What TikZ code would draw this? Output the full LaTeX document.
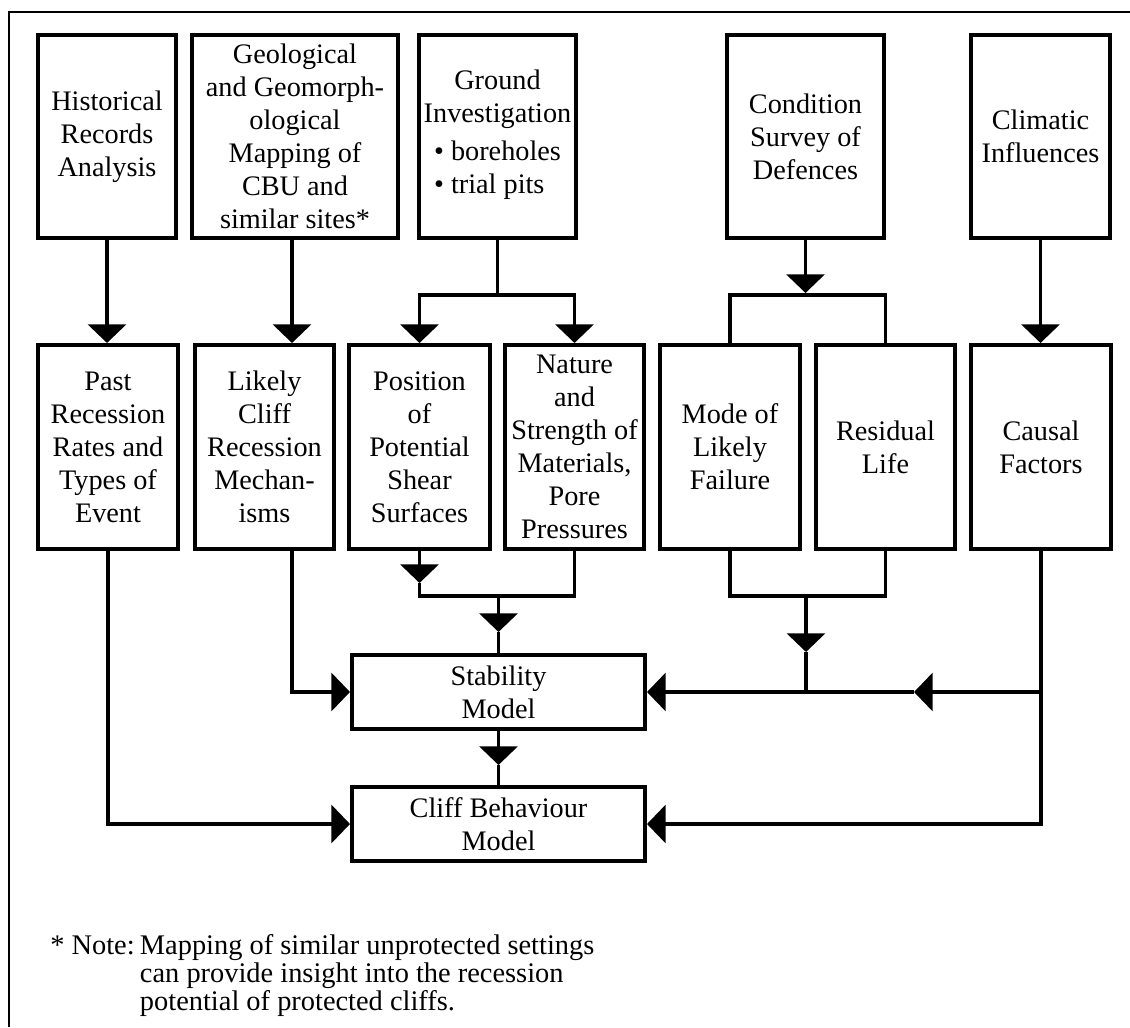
\documentclass[tikz,border=0pt]{standalone}
\usepackage{fontspec}
\setmainfont{Liberation Serif}
\usetikzlibrary{arrows.meta}
\begin{document}
\begin{tikzpicture}[x=0.75pt,y=-0.75pt,
  >={Triangle[width=28.5pt,length=14pt]},
  txt/.style={font=\fontsize{21.2}{24.75}\selectfont},
  box/.style 2 args={draw, line width=3pt, inner sep=0pt, align=center, txt,
    minimum width=#1*0.75pt, minimum height=#2*0.75pt},
  conn/.style={line width=2.6pt},
  arr/.style={conn,->},
  frame/.style={line width=2.2pt}]

\useasboundingbox (0,0) rectangle (1130,1027);
\draw[frame] (9,1027) -- (9,12) -- (1130,12);

% top row: sources of information
\node[box={138}{203}] (hist)   at (107,136.5)   {Historical\\Records\\Analysis};
\node[box={206}{203}] (geo)    at (295,136.5)   {Geological\\and Geomorph-\\ological\\Mapping of\\CBU and\\similar sites*};
\node[box={157}{203}] (ground) at (497.5,136.5) {Ground\\Investigation\\[4pt]\begin{tabular}[t]{@{}l@{}}• boreholes\\• trial pits\end{tabular}};
\node[box={157}{203}] (cond)   at (805.5,136.5) {Condition\\Survey of\\Defences};
\node[box={139}{203}] (clim)   at (1040.5,136.5) {Climatic\\Influences};

% middle row: derived information
\node[box={140}{204}] (past)     at (108,447)    {Past\\Recession\\Rates and\\Types of\\Event};
\node[box={139}{204}] (likely)   at (264.5,447)  {Likely\\Cliff\\Recession\\Mechan-\\isms};
\node[box={141}{204}] (position) at (419.5,447)  {Position\\of\\Potential\\Shear\\Surfaces};
\node[box={139}{204}] (nature)   at (574.5,447)  {Nature\\and\\Strength of\\Materials,\\Pore\\Pressures};
\node[box={140}{204}] (mode)     at (730,447)    {Mode of\\Likely\\Failure};
\node[box={139}{204}] (residual) at (885.5,447)  {Residual\\Life};
\node[box={140}{204}] (causal)   at (1041,447)   {Causal\\Factors};

% models
\node[box={293}{74}] (stab)  at (498.5,692) {Stability\\Model};
\node[box={293}{74}] (cliff) at (498.5,824) {Cliff Behaviour\\Model};

% note
\node[anchor=base west, inner sep=0pt, font=\fontsize{21.3}{21}\selectfont] (note) at (50,954)
  {\begin{tabular}[t]{@{}l@{\hspace{4pt}}l@{}}* Note: & Mapping of similar unprotected settings\\
   & can provide insight into the recession\\ & potential of protected cliffs.\end{tabular}};

% junction points
\coordinate (gj)  at (497.5,295);
\coordinate (cj)  at (805.5,295);
\coordinate (cjt) at (805.5,293);
\coordinate (lk)  at (292,549);
\coordinate (pa)  at (419.5,583);
\coordinate (pj)  at (498.5,596);
\coordinate (pb)  at (498.5,632);
\coordinate (mj)  at (806,596);
\coordinate (ma)  at (806,652);
\coordinate (mk)  at (806,692);
\coordinate (ck)  at (1041,692);
\coordinate (ca)  at (914,692);
\coordinate (sa)  at (498.5,765);

% top row to middle row
\draw[arr] (hist.south) -- (hist.south |- past.north);
\draw[arr] (geo.south -| lk) -- (likely.north -| lk);
\draw[conn] (ground.south) -- (gj);
\draw[conn,<->] (position.north) |- (gj) -| (nature.north);
\draw[arr] (cond.south) -- (cjt);
\draw[conn] (mode.north) |- (cj) -| (residual.north);
\draw[arr] (clim.south) -- (clim.south |- causal.north);

% middle row to stability model
\draw[arr] (position.south) -- (pa);
\draw[conn] (pa) |- (pj) -| (nature.south);
\draw[arr] (pj) -- (pb);
\draw[conn] (pb) -- (stab.north);
\draw[arr] (lk) |- (stab.west);
\draw[conn] (mode.south) |- (mj) -| (residual.south);
\draw[arr] (mj) -- (ma);
\draw[conn] (ma) -- (mk);
\draw[conn] (causal.south) -- (ck);
\draw[arr] (ck) -- (ca);
\draw[arr] (ca) -- (stab.east);

% into the cliff behaviour model
\draw[arr] (stab.south) -- (sa);
\draw[conn] (sa) -- (cliff.north);
\draw[arr] (past.south) |- (cliff.west);
\draw[arr] (ck) |- (cliff.east);
\end{tikzpicture}
\end{document}
